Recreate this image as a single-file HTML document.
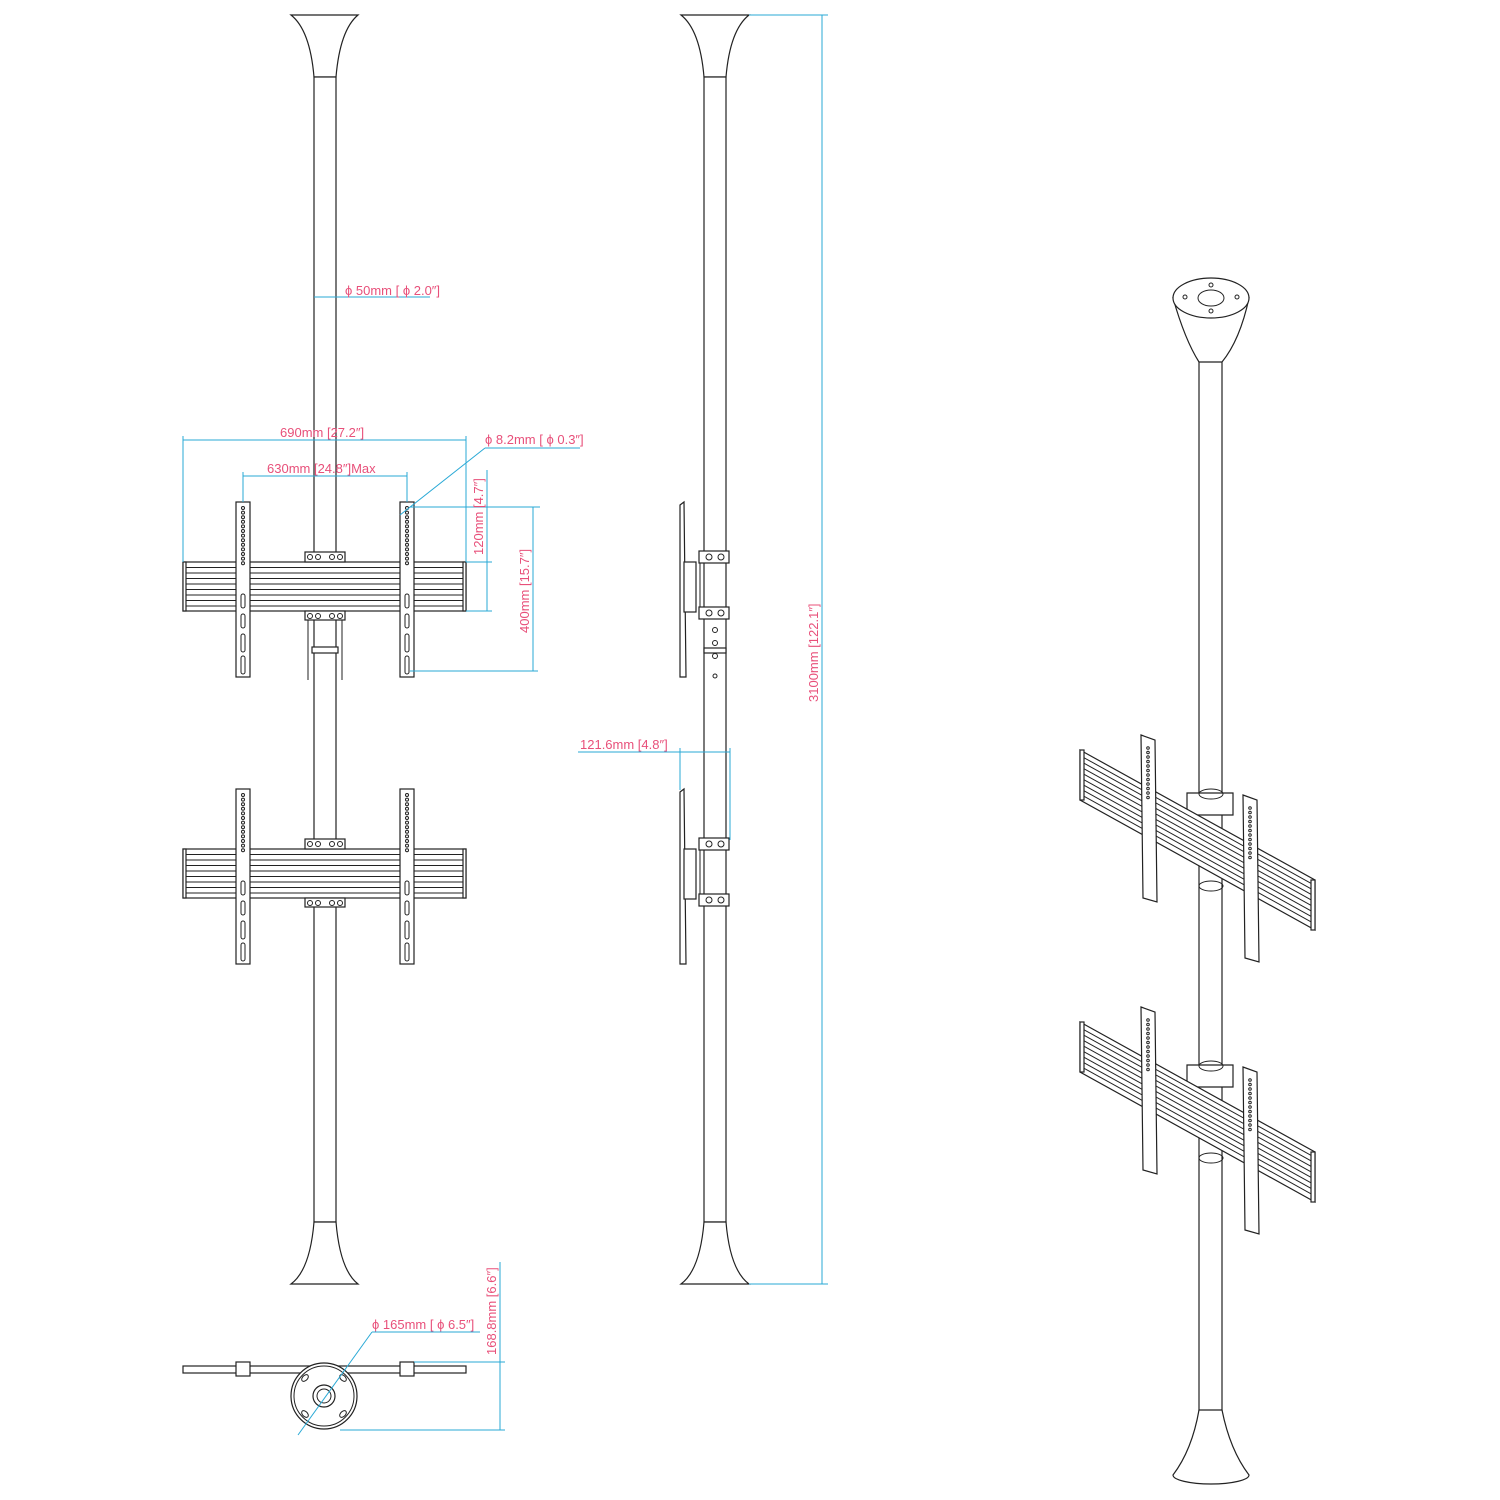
<!DOCTYPE html>
<html><head><meta charset="utf-8"><style>
html,body{margin:0;padding:0;background:#fff}
svg{display:block}
text{font-family:"Liberation Sans",sans-serif;font-size:13px;fill:#e8507a}
.c{stroke:#29a9d6;stroke-width:1;fill:none}
.k{stroke:#222;stroke-width:1.2;fill:#fff}
.kn{stroke:#222;stroke-width:1;fill:none}
</style></head><body>
<svg id="s" width="1500" height="1500" viewBox="0 0 1500 1500" xmlns="http://www.w3.org/2000/svg">
<g>
<path class="k" d="M291,15 L358,15 Q340,30 336,77 L314,77 Q310,30 291,15 Z"/>
<rect class="k" x="314" y="77" width="22" height="1145"/>
<path class="k" d="M314,1222 L336,1222 Q340,1270 358,1284 L291,1284 Q310,1270 314,1222 Z"/>
</g>
<g>
<path class="k" d="M681,15 L749,15 Q730,30 726,77 L704,77 Q700,30 681,15 Z"/>
<rect class="k" x="704" y="77" width="22" height="1145"/>
<path class="k" d="M704,1222 L726,1222 Q730,1270 749,1284 L681,1284 Q700,1270 704,1222 Z"/>
</g>
<g>
<rect class="k" x="1199" y="340" width="23" height="1075"/>
<path class="k" d="M1173,298 Q1185,340 1199,362 L1222,362 Q1240,340 1249,298 Z"/>
<ellipse class="k" cx="1211" cy="298" rx="38" ry="20"/>
<ellipse class="kn" cx="1211" cy="298" rx="13" ry="8"/>
<circle class="kn" cx="1185" cy="297" r="2"/><circle class="kn" cx="1237" cy="297" r="2"/>
<circle class="kn" cx="1211" cy="285" r="2"/><circle class="kn" cx="1211" cy="311" r="2"/>
<path class="k" d="M1199,1410 L1222,1410 Q1230,1450 1249,1475 A38,9 0 0 1 1173,1475 Q1192,1450 1199,1410 Z"/>
</g>
<g id="dyn"></g>
<g>
<rect class="k" x="183" y="1366" width="283" height="7"/>
<rect class="k" x="236" y="1362" width="14" height="14"/>
<rect class="k" x="400" y="1362" width="14" height="14"/>
<circle class="k" cx="324" cy="1396" r="33"/>
<circle class="kn" cx="324" cy="1396" r="30"/>
<circle class="k" cx="324" cy="1396" r="11"/>
<circle class="kn" cx="324" cy="1396" r="7"/>
<ellipse class="kn" cx="305" cy="1378" rx="4" ry="2.5" transform="rotate(-45 305 1378)"/>
<ellipse class="kn" cx="343" cy="1378" rx="4" ry="2.5" transform="rotate(45 343 1378)"/>
<ellipse class="kn" cx="305" cy="1414" rx="4" ry="2.5" transform="rotate(45 305 1414)"/>
<ellipse class="kn" cx="343" cy="1414" rx="4" ry="2.5" transform="rotate(-45 343 1414)"/>
</g>
<g>
<line class="c" x1="314" y1="297" x2="430" y2="297"/>
<text x="345" y="295">ϕ 50mm [ ϕ 2.0″]</text>
<line class="c" x1="183" y1="440" x2="466" y2="440"/><line class="c" x1="183" y1="436" x2="183" y2="562"/><line class="c" x1="466" y1="436" x2="466" y2="562"/>
<text x="280" y="437">690mm [27.2″]</text>
<line class="c" x1="243" y1="476" x2="407" y2="476"/><line class="c" x1="243" y1="472" x2="243" y2="502"/><line class="c" x1="407" y1="472" x2="407" y2="502"/>
<text x="267" y="473">630mm [24.8″]Max</text>
<line class="c" x1="400" y1="515" x2="485" y2="448"/><line class="c" x1="485" y1="448" x2="580" y2="448"/>
<text x="485" y="444">ϕ 8.2mm [ ϕ 0.3″]</text>
<line class="c" x1="410" y1="507" x2="540" y2="507"/><line class="c" x1="466" y1="611" x2="492" y2="611"/>
<line class="c" x1="487" y1="470" x2="487" y2="611"/><line class="c" x1="466" y1="562" x2="492" y2="562"/>
<text transform="translate(483,555) rotate(-90)">120mm [4.7″]</text>
<line class="c" x1="533" y1="507" x2="533" y2="671"/><line class="c" x1="410" y1="671" x2="538" y2="671"/>
<text transform="translate(529,633) rotate(-90)">400mm [15.7″]</text>
<line class="c" x1="749" y1="15" x2="828" y2="15"/><line class="c" x1="749" y1="1284" x2="828" y2="1284"/>
<line class="c" x1="822" y1="15" x2="822" y2="1284"/>
<text transform="translate(818,702) rotate(-90)">3100mm [122.1″]</text>
<line class="c" x1="578" y1="752" x2="730" y2="752"/><line class="c" x1="680" y1="748" x2="680" y2="790"/><line class="c" x1="730" y1="748" x2="730" y2="840"/>
<text x="580" y="749">121.6mm [4.8″]</text>
<line class="c" x1="298" y1="1435" x2="372" y2="1332"/><line class="c" x1="372" y1="1332" x2="480" y2="1332"/>
<text x="372" y="1329">ϕ 165mm [ ϕ 6.5″]</text>
<line class="c" x1="414" y1="1362" x2="505" y2="1362"/><line class="c" x1="340" y1="1430" x2="505" y2="1430"/>
<line class="c" x1="500" y1="1262" x2="500" y2="1430"/>
<text transform="translate(496,1355) rotate(-90)">168.8mm [6.6″]</text>
</g>
</svg>
<script>
var g=document.getElementById('dyn'),h='';
function R(x,y,w,hh,c){h+='<rect class="'+(c||'k')+'" x="'+x+'" y="'+y+'" width="'+w+'" height="'+hh+'"/>';}
function L(a,b,c,d){h+='<line class="kn" x1="'+a+'" y1="'+b+'" x2="'+c+'" y2="'+d+'"/>';}
function C(x,y,r){h+='<circle class="kn" cx="'+x+'" cy="'+y+'" r="'+r+'"/>';}
function P(p,c){h+='<polygon class="'+(c||'k')+'" points="'+p+'"/>';}
[0,287].forEach(function(o){
 R(183,562+o,283,49);
 for(var i=1;i<9;i++)L(183,562+o+i*5.5,466,562+o+i*5.5);
 R(183,562+o,3,49);R(463,562+o,3,49);
 R(305,552+o,40,10);R(305,611+o,40,9);
 [310,318,332,340].forEach(function(x){C(x,557+o,2.5);C(x,616+o,2.5);});
 [236,400].forEach(function(x){
  R(x,502+o,14,175);
  for(var j=0;j<13;j++)C(x+7,508+o+j*4.6,1.5);
  h+='<rect class="kn" x="'+(x+5)+'" y="'+(594+o)+'" width="4" height="14" rx="2"/>';
  h+='<rect class="kn" x="'+(x+5)+'" y="'+(614+o)+'" width="4" height="14" rx="2"/>';
  h+='<rect class="kn" x="'+(x+5)+'" y="'+(634+o)+'" width="4" height="18" rx="2"/>';
  h+='<rect class="kn" x="'+(x+5)+'" y="'+(656+o)+'" width="4" height="18" rx="2"/>';
 });
});
L(308,620,308,680);L(342,620,342,680);R(312,647,26,6);
[0,287].forEach(function(o){
 P('680,505 684,502 686,677 680,677'.replace(/(\d+),(\d+)/g,function(m,a,b){return a+','+(+b+o);}));
 R(684,562+o,12,50);R(699,551+o,30,12);R(699,607+o,30,12);
 C(709,557+o,3);C(721,557+o,3);C(709,613+o,3);C(721,613+o,3);
 L(700,563+o,700,607+o);
});
[630,643,656].forEach(function(y){C(715,y,2.5);});C(715,676,2);R(704,648,22,5);
function sk(x,y){return x+','+y;}
[0,272].forEach(function(o){
 P(sk(1187,793+o)+' '+sk(1233,793+o)+' '+sk(1233,815+o)+' '+sk(1187,815+o));
 h+='<ellipse class="kn" cx="1211" cy="'+(794+o)+'" rx="12" ry="5"/>';
 P(sk(1080,750+o)+' '+sk(1315,880+o)+' '+sk(1315,930+o)+' '+sk(1080,800+o));
 for(var i=1;i<9;i++)L(1080,750+o+i*5.5,1315,880+o+i*5.5);
 R(1080,750+o,4,50);R(1311,880+o,4,50);
 P(sk(1141,735+o)+' '+sk(1155,740+o)+' '+sk(1157,902+o)+' '+sk(1143,898+o));
 P(sk(1243,795+o)+' '+sk(1257,800+o)+' '+sk(1259,962+o)+' '+sk(1245,958+o));
 for(var j=0;j<12;j++){C(1148,748+o+j*4.5,1.3);C(1250,808+o+j*4.5,1.3);}
 h+='<ellipse class="kn" cx="1211" cy="'+(886+o)+'" rx="12" ry="5"/>';
});
g.innerHTML=h;
</script>
</body></html>
